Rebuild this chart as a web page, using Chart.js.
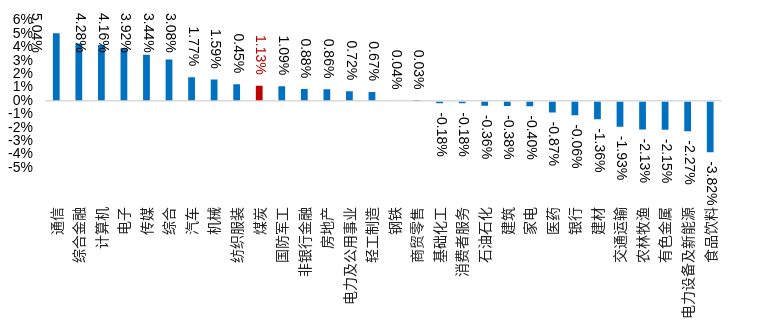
<!DOCTYPE html>
<html>
<head>
<meta charset="utf-8">
<script src="https://cdn.jsdelivr.net/npm/chart.js@4/dist/chart.umd.min.js"></script>
<style>
  html, body { margin: 0; padding: 0; background: #fff; }
  #wrap { width: 766px; height: 325px; position: relative; }
</style>
</head>
<body>
<div id="wrap"><canvas id="c"></canvas></div>
<script>
const categories = ['通信','综合金融','计算机','电子','传媒','综合','汽车','机械','纺织服装','煤炭','国防军工','非银行金融','房地产','电力及公用事业','轻工制造','钢铁','商贸零售','基础化工','消费者服务','石油石化','建筑','家电','医药','银行','建材','交通运输','农林牧渔','有色金属','电力设备及新能源','食品饮料'];
const values = [5.04, 4.28, 4.16, 3.92, 3.44, 3.08, 1.77, 1.59, 1.24, 1.13, 1.09, 0.88, 0.86, 0.72, 0.67, 0.04, 0.03, -0.18, -0.18, -0.36, -0.38, -0.40, -0.87, -1.06, -1.36, -1.93, -2.13, -2.15, -2.27, -3.82];
const valueLabels = ['5.04%','4.28%','4.16%','3.92%','3.44%','3.08%','1.77%','1.59%','0.45%','1.13%','1.09%','0.88%','0.86%','0.72%','0.67%','0.04%','0.03%','-0.18%','-0.18%','-0.36%','-0.38%','-0.40%','-0.87%','-0.06%','-1.36%','-1.93%','-2.13%','-2.15%','-2.27%','-3.82%'];
const highlighted = ['煤炭'];
const yTicks = [6, 5, 4, 3, 2, 1, 0, -1, -2, -3, -4, -5];

const BLUE = '#0070C0', RED = '#C00000';
const barColors = categories.map(c => highlighted.includes(c) ? RED : BLUE);
const labelColors = categories.map(c => highlighted.includes(c) ? RED : '#000000');

const dataLabelPlugin = {
  id: 'dataLabels',
  afterDatasetsDraw(chart) {
    const ctx = chart.ctx;
    const meta = chart.getDatasetMeta(0);
    ctx.save();
    ctx.font = '14px "Liberation Sans", Arial, sans-serif';
    meta.data.forEach((bar, i) => {
      const txt = valueLabels[i];
      const w = ctx.measureText(txt).width;
      let start;
      if (values[i] >= 0) {
        start = Math.max(13, bar.y - 11 - w);
      } else {
        start = bar.y + 9;
      }
      // the first label sits left of its bar in the reference
      const dx = i === 0 ? -20 : 1;
      ctx.save();
      ctx.translate(bar.x + dx, start);
      ctx.rotate(Math.PI / 2);
      ctx.fillStyle = labelColors[i];
      ctx.textAlign = 'left';
      ctx.textBaseline = 'middle';
      ctx.fillText(txt, 0, 0);
      ctx.restore();
    });
    ctx.restore();
  }
};

new Chart(document.getElementById('c'), {
  type: 'bar',
  data: {
    labels: categories,
    datasets: [{
      data: values,
      backgroundColor: barColors,
      barPercentage: 0.3,
      categoryPercentage: 1.0
    }]
  },
  options: {
    responsive: true,
    maintainAspectRatio: false,
    animation: false,
    layout: { padding: { top: 20, right: 0, left: 0, bottom: 0 } },
    plugins: { legend: { display: false }, tooltip: { enabled: false } },
    scales: {
      x: {
        grid: { display: false, drawTicks: false },
        border: { display: false },
        ticks: {
          autoSkip: false, maxRotation: 90, minRotation: 90,
          padding: 39,
          color: '#222',
          font: { family: '"Noto Sans CJK SC"', size: 14 }
        },
        afterFit(scale) { scale.height = 157; }
      },
      y: {
        min: -5, max: 6,
        afterBuildTicks(scale) { scale.ticks = yTicks.map(v => ({ value: v })); },
        grid: {
          drawTicks: false,
          color: ctx => (ctx.tick && ctx.tick.value === 0) ? '#d9d9d9' : 'rgba(0,0,0,0)',
          lineWidth: 1.5
        },
        border: { display: false },
        ticks: {
          autoSkip: false,
          padding: 12,
          color: '#000',
          font: { family: '"Liberation Sans", Arial, sans-serif', size: 14 },
          callback: v => v + '%'
        },
        afterFit(scale) { scale.width = 45; }
      }
    }
  },
  plugins: [dataLabelPlugin]
});
</script>
</body>
</html>
